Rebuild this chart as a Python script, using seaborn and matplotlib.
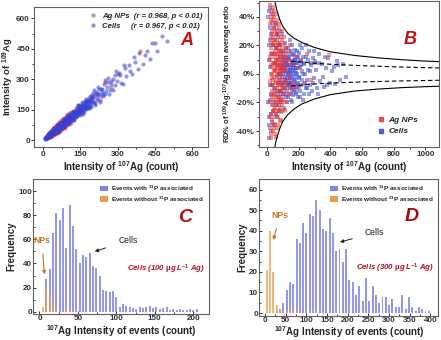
import numpy as np
import pandas as pd
import matplotlib
matplotlib.use("Agg")
import matplotlib.pyplot as plt
import seaborn as sns
from matplotlib.lines import Line2D
from matplotlib.patches import Patch
from matplotlib.ticker import AutoMinorLocator

sns.set_style("ticks")
plt.rcParams['font.family'] = ['Liberation Sans', 'DejaVu Sans']
plt.rcParams['mathtext.fontset'] = 'custom'
plt.rcParams['mathtext.rm'] = 'Liberation Sans'
plt.rcParams['mathtext.bf'] = 'Liberation Sans:bold'
plt.rcParams['mathtext.it'] = 'Liberation Sans:italic'
plt.rcParams['mathtext.default'] = 'bf'

# ---------------- data: single-event scatter (107Ag intensity, RD% of 109/107 ratio)
np_x = [15,16,18,18,20,20,22,22,24,24,25,26,27,28,28,30,30,31,32,33,34,35,35,36,37,38,38,39,40,40,
        41,42,43,44,45,45,46,47,48,48,49,50,50,51,52,53,54,55,55,56,57,58,59,60,60,61,62,63,64,65,
        65,66,67,68,69,70,70,71,72,73,74,75,76,77,78,79,80,80,82,83,84,85,86,87,88,89,90,91,92,94,
        95,96,98,100,101,103,105,107,110,112,115,118,120,124,128,132,136,140,146,152,160,168,178,188,200,215,232,250,275,300,390,
        17,19,21,23,25,26,27,29,29,31,32,33,34,36,37,39,41,42,43,44,46,47,49,50,51,52,54,54,56,57,
        58,59,61,62,63,64,66,67,68,69,71,72,74,75,76,78,79,81,83,84,86,87,89,90,92,93,95,97,99,102,
        104,106,109,111,114,117,122,126,134,142,150,156]
np_rd = [35,-20,48,-5,10,-38,25,-15,42,0,-28,18,-45,5,30,-12,45,-32,15,-3,38,-22,8,26,-40,-8,20,47,-18,3,
         33,-30,12,-2,40,-25,22,-10,7,-42,30,-15,16,-35,2,27,-20,10,-5,36,-28,18,-12,4,24,-38,-1,14,-22,31,
         8,-8,20,-30,0,12,-17,28,-4,-25,6,17,-12,35,-33,2,22,-8,10,-20,-2,15,-27,5,26,-14,0,18,-22,8,
         -10,30,-4,14,-18,3,21,-12,6,-25,12,-6,18,-15,2,10,-9,16,-2,-14,8,-6,12,-10,4,9,-7,14,-4,8,13,
         12,-30,38,-8,22,-42,6,-22,40,0,-16,28,-36,-4,14,-26,8,44,-14,24,-38,2,-6,36,20,-24,4,42,-16,10,
         -44,28,14,-26,-10,38,6,-20,22,-36,-6,16,-18,32,0,12,-24,4,20,-12,8,-32,14,-6,24,-16,4,-26,10,-8,
         26,-20,2,16,-10,8,-20,12,-4,20,6,-10]

cell_x = [8,10,12,14,16,18,20,24,26,30,34,38,42,45,48,52,55,58,60,62,65,68,70,72,75,77,80,82,84,86,
          88,90,92,94,95,96,98,100,101,102,104,105,106,108,109,110,112,113,114,116,117,118,120,121,122,124,125,126,128,129,
          130,131,132,134,135,136,138,139,140,141,142,144,145,146,148,150,151,152,154,155,156,158,160,161,162,164,165,166,168,170,
          172,174,175,178,180,182,184,186,188,190,192,195,198,200,203,206,210,214,218,222,226,230,235,240,245,250,256,262,268,275,
          282,290,298,305,315,325,335,345,358,370,385,400,420,440,460,480,500,
          6,9,11,13,15,17,19,22,23,27,28,32,36,40,44,46,50,54,56,59,63,66,69,73,76,79,81,83,85,87,
          89,91,93,97,99,103,107,111,115,119,123,127,133,137,143,147,149,153,157,159,163,167,169,171,173,177,179,183,185,187,
          189,191,194,197,201,205,208,212,216,220,224,228,233,238,243,248,254,260,266,272,280,288,295,310,320,330,350,365,380,410,
          430,450]
cell_rd = [40,-30,20,-45,5,32,-18,-40,28,-8,42,-26,14,-36,24,-12,34,-22,6,-30,18,-6,26,-16,2,-26,12,-4,20,-12,
           4,-20,10,-2,28,-8,6,-14,16,0,-6,8,-24,3,12,-10,-2,22,5,-16,1,9,-5,15,-12,2,7,-20,-3,11,
           4,-8,18,-1,-14,6,0,-6,10,24,-10,3,-3,14,-18,5,-7,1,9,-12,20,-2,6,-9,13,0,-15,4,-5,10,
           -11,17,2,-4,8,-13,1,12,-7,4,-16,9,-2,15,-9,5,-12,10,-4,18,0,-14,7,-6,12,-10,3,16,-8,6,
           -12,11,-3,9,-10,14,-5,7,-9,4,11,-6,5,9,-4,7,-2,
           -20,10,44,-36,24,-8,46,-28,14,-14,36,-34,20,-10,32,-20,8,-28,18,-2,28,-14,10,-22,20,0,-12,30,6,-18,
           16,-6,2,12,-10,4,-14,10,-4,18,-8,6,-16,12,-6,2,16,-4,8,-20,3,14,-8,6,-2,10,-9,4,-14,16,
           0,8,-6,12,-3,20,-16,6,-8,2,12,-18,8,0,-10,20,-4,10,-14,2,8,-6,16,3,-14,8,-2,12,-8,2,
           -7,6]

# envelope lines
env_x = [40, 50, 60, 80, 100, 130, 170, 220, 300, 400, 550, 700, 850, 1000, 1100]
env_up = [58, 50, 45, 38, 33, 28.5, 25, 22, 18.5, 15.5, 13, 11.3, 10, 9, 8.6]
env_lo = [-58, -50, -45, -38, -33, -28.5, -24.5, -21, -17.5, -14.5, -12, -10.6, -9.6, -8.9, -8.6]
sig_x = [150, 200, 300, 400, 600, 800, 1000, 1100]
sig_up = [9, 8.5, 7.5, 6.8, 5.8, 5.0, 4.4, 4.2]
sig_lo = [-8.5, -8.0, -7.0, -6.4, -5.6, -5.0, -4.6, -4.4]

# ---------------- data: histograms
c_bins = [4.4, 8.7, 13.1, 17.4, 21.8, 26.1, 30.5, 34.8, 39.2, 43.5, 47.9, 52.2, 56.6, 60.9, 65.3, 69.6,
          74.0, 78.3, 82.7, 87.0, 91.4, 95.7, 100.1, 104.4, 108.8, 113.1, 117.5, 121.8, 126.2, 130.5, 134.9,
          139.2, 143.6, 147.9, 152.3, 156.6, 161.0, 165.3, 169.7, 174.0, 178.4, 182.7, 187.1, 191.4, 195.8, 200.1, 204.5]
c_with = [0, 27, 35, 65, 82, 76, 86, 53, 89, 71, 52, 40, 47, 45, 49, 38,
          36, 30, 18, 17, 16, 17, 12, 4, 6, 5, 4, 3, 2, 4, 3,
          4, 5, 3, 4, 2, 3, 4, 1, 2, 1, 2, 1, 1, 2, 1, 2]
c_without = [4, 19, 15, 8, 2, 0, 0, 2, 2, 0, 0, 0, 0, 0, 0, 0,
             0, 0, 0, 0, 0, 0, 0, 0, 0, 0, 0, 0, 0, 0, 0,
             0, 0, 0, 0, 0, 0, 0, 0, 0, 0, 0, 0, 0, 0, 0, 0]
d_bins = [4, 12, 20, 28, 36, 44, 52, 60, 68, 76, 84, 92, 100, 108, 116, 124, 132, 140, 148, 156,
          164, 172, 180, 188, 196, 204, 212, 220, 228, 236, 244, 252, 260, 268, 276, 284, 292, 300, 308, 316,
          324, 332, 340, 348, 356, 364, 372, 380, 388, 396]
d_with = [0, 0, 0, 1, 2, 5, 11, 15, 14, 36, 34, 44, 39, 48, 47, 55, 50, 41, 40, 46,
          39, 30, 31, 25, 31, 16, 15, 9, 13, 6, 17, 6, 13, 9, 5, 8, 8, 4, 7, 3,
          3, 9, 2, 8, 3, 1, 3, 2, 1, 1]
d_without = [21, 40, 20, 4, 2, 0, 1, 2, 0, 2, 0, 0, 0, 0, 2, 0, 0, 0, 0, 0,
             0, 0, 0, 0, 0, 0, 0, 0, 0, 0, 0, 0, 0, 0, 0, 0, 0, 0, 0, 0,
             0, 0, 0, 0, 0, 0, 0, 0, 0, 0]

RED = "#e8322e"
BLUE = "#3142d8"
HBLUE = "#8285ee"
HORANGE = "#eb9a4c"
DARKRED = "#b0101c"
TICK = 5.8
LAB = 7.0

df_np = pd.DataFrame({"x107": np_x, "rd": np_rd})
df_np["y109"] = df_np["x107"] * (1 + df_np["rd"] / 100)
df_cell = pd.DataFrame({"x107": cell_x, "rd": cell_rd})
df_cell["y109"] = df_cell["x107"] * (1 + df_cell["rd"] / 100)

fig = plt.figure(figsize=(4.41, 3.40), dpi=100)
axA = fig.add_axes([0.0780, 0.5685, 0.3945, 0.410])
axB = fig.add_axes([0.588, 0.5685, 0.407, 0.428])
axC = fig.add_axes([0.0755, 0.0765, 0.3973, 0.3961])
axD = fig.add_axes([0.588, 0.0720, 0.4059, 0.4006])

def style(ax, direction="out"):
    for s in ax.spines.values():
        s.set_visible(True)
        s.set_color("#606060")
        s.set_linewidth(0.8)
    ax.tick_params(axis="both", which="major", labelsize=TICK, length=2.2, width=0.7,
                   colors="#303030", pad=1.0, direction=direction)
    ax.tick_params(axis="both", which="minor", length=1.3, width=0.6, direction=direction)
    for lab in ax.get_xticklabels() + ax.get_yticklabels():
        lab.set_fontweight("bold")

# ---------------- panel A
sns.scatterplot(data=df_np, x="x107", y="y109", ax=axA, color=RED, marker="o", s=9,
                alpha=0.55, linewidth=0, legend=False)
sns.scatterplot(data=df_cell, x="x107", y="y109", ax=axA, color=BLUE, marker="o", s=9,
                alpha=0.55, linewidth=0, legend=False)
axA.set_xlim(-35, 665)
axA.set_ylim(-33, 655)
axA.set_xticks([0, 150, 300, 450, 600])
axA.set_yticks([0, 150, 300, 450, 600])
axA.xaxis.set_minor_locator(AutoMinorLocator(2))
axA.yaxis.set_minor_locator(AutoMinorLocator(2))
axA.set_xlabel(r"Intensity of $^{107}$Ag (count)", fontsize=LAB, fontweight="bold", labelpad=1)
axA.set_ylabel(r"Intensity of $^{109}$Ag", fontsize=6.8, fontweight="bold", labelpad=0.5)
hA = [Line2D([], [], marker="o", ls="", color="#c09090", ms=2),
      Line2D([], [], marker="o", ls="", color="#9090c0", ms=2)]
axA.legend(hA, ["Ag NPs  (r = 0.968, p < 0.01)", "Cells     (r = 0.967, p < 0.01)"],
           loc="upper right", frameon=False, prop={"size": 5.6, "weight": "bold", "style": "italic"},
           handletextpad=0.6, borderaxespad=0.3, labelspacing=0.3, handlelength=1.2)
axA.text(577, 493, "A", color="#d01010", fontsize=13, fontweight="bold", style="italic",
         ha="center", va="center")
style(axA)

# ---------------- panel B
sns.scatterplot(data=df_cell, x="x107", y="rd", ax=axB, color=BLUE, marker="s", s=10,
                alpha=0.5, linewidth=0, legend=False)
sns.scatterplot(data=df_np, x="x107", y="rd", ax=axB, color=RED, marker="s", s=10,
                alpha=0.5, linewidth=0, legend=False)
sns.lineplot(x=env_x, y=env_up, ax=axB, color="black", lw=0.8)
sns.lineplot(x=env_x, y=env_lo, ax=axB, color="black", lw=0.8)
sns.lineplot(x=sig_x, y=sig_up, ax=axB, color="black", lw=0.8, linestyle=(0, (4, 2.5)))
sns.lineplot(x=sig_x, y=sig_lo, ax=axB, color="black", lw=0.8, linestyle=(0, (4, 2.5)))
axB.set_xlim(-50, 1085)
axB.set_ylim(-51, 51)
axB.set_xticks([0, 200, 400, 600, 800, 1000])
axB.set_yticks([-40, -20, 0, 20, 40])
axB.set_yticklabels(["-40%", "-20%", "0%", "20%", "40%"])
axB.xaxis.set_minor_locator(AutoMinorLocator(2))
axB.yaxis.set_minor_locator(AutoMinorLocator(2))
axB.set_xlabel(r"Intensity of $^{107}$Ag (count)", fontsize=LAB, fontweight="bold", labelpad=1)
axB.set_ylabel(r"RD% of $^{109}$Ag:$^{107}$Ag from average ratio", fontsize=5.4,
               fontweight="bold", labelpad=1)
hB = [Line2D([], [], marker="s", ls="", color=RED, ms=2.8, alpha=0.8),
      Line2D([], [], marker="s", ls="", color=BLUE, ms=2.8, alpha=0.8)]
axB.legend(hB, ["Ag NPs", "Cells"], loc="lower right", frameon=False,
           prop={"size": 6, "weight": "bold", "style": "italic"}, handletextpad=0.4,
           borderaxespad=0.6, labelspacing=0.45, handlelength=1.0, bbox_to_anchor=(0.93, 0.02))
axB.text(906, 24, "B", color="#c01010", fontsize=13, fontweight="bold", style="italic",
         ha="center", va="center")
style(axB)

# ---------------- histograms
def hist(ax, centers, with_p, without_p, width):
    rng = (centers[0] - width / 2, centers[-1] + width / 2)
    sns.histplot(x=centers, weights=with_p, binwidth=width, binrange=rng,
                 ax=ax, color=HBLUE, alpha=0.85, shrink=0.6, linewidth=0, edgecolor="none")
    sns.histplot(x=centers, weights=without_p, binwidth=width, binrange=rng,
                 ax=ax, color=HORANGE, alpha=0.75, shrink=0.6, linewidth=0, edgecolor="none")
    hl = [Patch(facecolor=HBLUE, edgecolor="none"), Patch(facecolor=HORANGE, edgecolor="none")]
    ax.legend(hl, [r"Events with $^{31}$P associated", r"Events without $^{31}$P associated"],
              loc="upper right", frameon=False, prop={"size": 4.6, "weight": "bold"},
              handlelength=1.3, handleheight=1.0, handletextpad=0.5, labelspacing=0.25,
              borderaxespad=0.25)
    ax.set_xlabel(r"$^{107}$Ag Intensity of events (count)", fontsize=LAB, fontweight="bold", labelpad=0.5)
    ax.set_ylabel("Frequency", fontsize=LAB, fontweight="bold", labelpad=1)
    ax.xaxis.set_minor_locator(AutoMinorLocator(2))
    ax.yaxis.set_minor_locator(AutoMinorLocator(2))

hist(axC, c_bins, c_with, c_without, 4.35)
axC.set_xlim(-8, 220)
axC.set_ylim(-2, 110)
axC.set_xticks([0, 50, 100, 150, 200])
axC.set_yticks([0, 20, 40, 60, 80, 100])
axC.annotate("NPs", xy=(6.5, 31), xytext=(3, 59), color="#c8741e", fontsize=6.2,
             fontweight="bold", ha="center", va="center",
             arrowprops=dict(arrowstyle="-|>", color="#c8741e", lw=0.8, mutation_scale=5,
                             shrinkA=4, shrinkB=0))
axC.annotate("Cells", xy=(72, 50), xytext=(115, 59), color="#202020", fontsize=6.2,
             ha="center", va="center",
             arrowprops=dict(arrowstyle="-|>", color="#202020", lw=0.7, mutation_scale=5,
                             shrinkA=7, shrinkB=0))
axC.text(165, 35, r"Cells (100 $\mu$g L$^{-1}$ Ag)", color=DARKRED, fontsize=5.6,
         style="italic", fontweight="bold", ha="center", va="center")
axC.text(190, 78, "C", color="#b01010", fontsize=14, fontweight="bold", style="italic",
         ha="center", va="center")
style(axC, "in")

hist(axD, d_bins, d_with, d_without, 8)
axD.set_xlim(-14, 419)
axD.set_ylim(-1.2, 65)
axD.set_xticks([0, 50, 100, 150, 200, 250, 300, 350, 400])
axD.set_yticks([0, 10, 20, 30, 40, 50, 60])
axD.annotate("NPs", xy=(20, 35.5), xytext=(36, 47.5), color="#c8741e", fontsize=6.2,
             fontweight="bold", ha="center", va="center",
             arrowprops=dict(arrowstyle="-|>", color="#c8741e", lw=0.8, mutation_scale=5,
                             shrinkA=4, shrinkB=0))
axD.annotate("Cells", xy=(181, 34.5), xytext=(265, 39), color="#202020", fontsize=6.2,
             ha="center", va="center",
             arrowprops=dict(arrowstyle="-|>", color="#202020", lw=0.7, mutation_scale=5,
                             shrinkA=7, shrinkB=0))
axD.text(314, 21.5, r"Cells (300 $\mu$g L$^{-1}$ Ag)", color=DARKRED, fontsize=5.6,
         style="italic", fontweight="bold", ha="center", va="center")
axD.text(354, 47, "D", color="#a00c0c", fontsize=14, fontweight="bold", style="italic",
         ha="center", va="center")
style(axD, "in")

fig.savefig("out.png", dpi=100)
